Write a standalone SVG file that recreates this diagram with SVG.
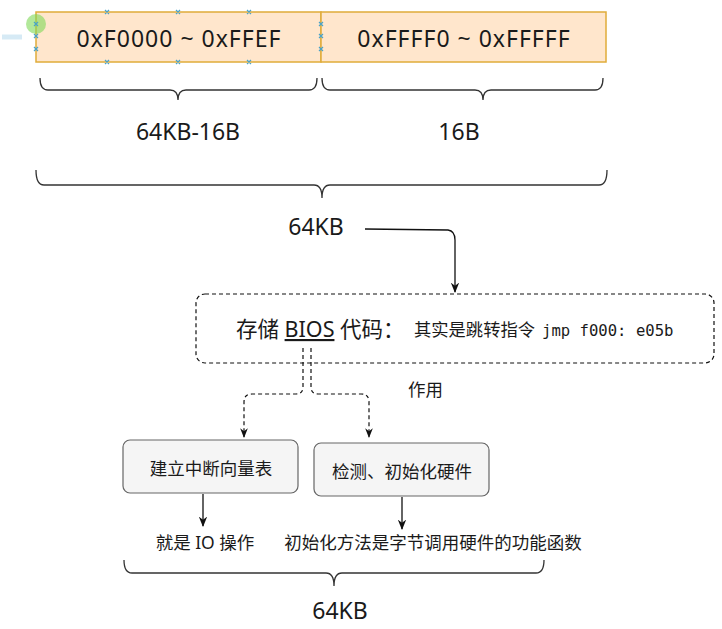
<svg xmlns="http://www.w3.org/2000/svg" width="722" height="629" viewBox="0 0 722 629">
<style>
.t{font-family:"Noto Sans","Noto Sans CJK SC",sans-serif;fill:#1a1a1a}
.big{font-size:23px}
.mem{fill:#ffe6cc;stroke:#e0ac3a;stroke-width:1.5}
.brace{fill:none;stroke:#333;stroke-width:1.3}
.gray{fill:#f5f5f5;stroke:#666;stroke-width:1.2}
.c{fill:none;stroke:#111;stroke-width:1.3}
.d{fill:none;stroke:#111;stroke-width:1.2;stroke-dasharray:4 3}
.h{stroke:#4aa3c8;stroke-width:1.2}
</style>
<defs>
<marker id="ar" viewBox="0 0 10 10" refX="9" refY="5" markerWidth="8" markerHeight="8" orient="auto">
<path d="M0,1 L10,5 L0,9 L3,5 Z" fill="#111"/>
</marker>
</defs>
<rect width="722" height="629" fill="#fff"/>

<g id="mem1">
<rect class="mem" x="36" y="12" width="285" height="50"/>
<text class="t big" x="179" y="47" letter-spacing="1" text-anchor="middle">0xF0000 ~ 0xFFEF</text>
</g>
<g id="mem2">
<rect class="mem" x="321" y="12" width="285" height="50"/>
<text class="t big" x="464" y="47" letter-spacing="1" text-anchor="middle">0xFFFF0 ~ 0xFFFFF</text>
</g>

<g id="handles">
<path d="M2,37 L22,37" stroke="#d6eaf5" stroke-width="5"/>
<circle cx="36" cy="24" r="10" fill="#7ed957" fill-opacity="0.6"/>
<g class="h">
<path d="M34,22l4,4M38,22l-4,4M34,34l4,4M38,34l-4,4M34,47l4,4M38,47l-4,4"/>
<path d="M105,10l4,4M109,10l-4,4M176,10l4,4M180,10l-4,4M247,10l4,4M251,10l-4,4"/>
<path d="M105,60l4,4M109,60l-4,4M176,60l4,4M180,60l-4,4M247,60l4,4M251,60l-4,4"/>
<path d="M319,22l4,4M323,22l-4,4M319,34l4,4M323,34l-4,4M319,47l4,4M323,47l-4,4"/>
</g>
</g>

<g id="brace1">
<path class="brace" d="M40,78 Q40,90 48,90 L170,90 Q178,90 178,100 Q178,90 186,90 L309,90 Q317,90 317,78"/>
<text class="t big" x="188" y="140" text-anchor="middle">64KB-16B</text>
</g>
<g id="brace2">
<path class="brace" d="M322,78 Q322,90 330,90 L475,90 Q483,90 483,100 Q483,90 491,90 L595,90 Q603,90 603,78"/>
<text class="t big" x="459" y="140" text-anchor="middle">16B</text>
</g>
<g id="brace3">
<path class="brace" d="M36,170 Q36,185 44,185 L314,185 Q322,185 322,198 Q322,185 330,185 L599,185 Q607,185 607,170"/>
<text class="t big" x="316" y="235" text-anchor="middle">64KB</text>
</g>

<g id="bios">
<rect x="196" y="294" width="518" height="69" rx="9" fill="#fff" stroke="#111" stroke-width="1.2" stroke-dasharray="4 3"/>
<text class="t" x="236" y="337" font-size="21.5">存储 <tspan text-decoration="underline">BIOS</tspan> 代码：</text>
<text class="t" x="414" y="336" font-size="17.3">其实是跳转指令</text>
<text x="542" y="336" font-family="DejaVu Sans Mono,monospace" font-size="15.6" fill="#1a1a1a">jmp f000: e05b</text>
</g>
<text class="t" x="408" y="396" font-size="17.5">作用</text>

<g id="ivt">
<rect class="gray" x="123" y="440" width="175" height="53" rx="7"/>
<text class="t" x="211" y="475" font-size="17.5" text-anchor="middle">建立中断向量表</text>
</g>
<g id="hw">
<rect class="gray" x="314" y="443" width="175" height="53" rx="7"/>
<text class="t" x="402" y="478" font-size="17.5" text-anchor="middle">检测、初始化硬件</text>
</g>

<g id="connectors">
<path class="c" d="M365,229 L448,230 Q455,231 455,240 L455,292" marker-end="url(#ar)"/>
<path class="d" d="M303,348 L303,387 Q303,394 296,394 L252,394 Q244,394 244,402 L244,437" marker-end="url(#ar)"/>
<path class="d" d="M311,348 L311,387 Q311,394 318,394 L361,394 Q369,394 369,402 L369,437" marker-end="url(#ar)"/>
<path class="c" d="M203,494 L203,526" marker-end="url(#ar)"/>
<path class="c" d="M402,497 L402,529" marker-end="url(#ar)"/>
</g>

<text class="t" x="205" y="549" font-size="17.5" text-anchor="middle">就是 IO 操作</text>
<text class="t" x="433" y="549" font-size="17.5" text-anchor="middle">初始化方法是字节调用硬件的功能函数</text>

<g id="brace4">
<path class="brace" d="M124,560 Q124,573 132,573 L326,573 Q334,573 334,586 Q334,573 342,573 L536,573 Q544,573 544,560"/>
<text class="t big" x="340" y="619" text-anchor="middle">64KB</text>
</g>
</svg>
